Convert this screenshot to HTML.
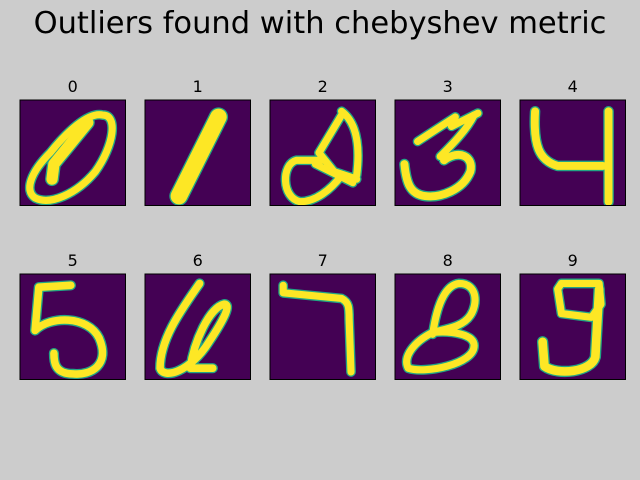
<!DOCTYPE html>
<html><head><meta charset="utf-8"><style>
body{margin:0;background:#cccccc;}
svg{display:block;font-family:"DejaVu Sans","Liberation Sans",sans-serif;}
</style></head><body>
<svg width="640" height="480" viewBox="0 0 640 480">
<rect width="640" height="480" fill="#cccccc"/>
<text x="320" y="33" text-anchor="middle" font-size="30.5" fill="#000">Outliers found with chebyshev metric</text>
<g id="panels"></g>
</svg>
<script>
const labels = ['0','1','2','3','4','5','6','7','8','9'];
const strokes = [
 [['M22,4 C26,4 25,12 20,19 C15,25 8,28 4,26 C1,24 3,19 8,14 C12,9 18,3 22,4 Z',1.9],['M8.5,21 L9,17 L18,6',3]],
 [['M19.5,4.5 L9,25.5',4.4]],
 [['M19,3 C23,6 24,12 23,20',1.9],['M19,4 L13,14 L17,19 L23,21',1.9],['M14,16 L7,16 C3,17 3,26 8,27 C12,27 16,24 19,20',1.9],['M12,17 L22,22',1.8]],
 [['M6,11 L16,4.5 L15,7 L22,3.5',1.9],['M21,4 C19,8 15,12 12,15',1.9],['M13,16 C17,13 21,15 20,19 C18,24 12,26 8,25.5 C4,25 3,22 2.5,17',2.1]],
 [['M4,3 C3.5,12 5,16 10,17.5 L22,17.5',2.1],['M23.5,3 L23.5,27',2.1]],
 [['M13.5,3 L5,3.5 L4,15 C8,11 18,11 21,17 C24,24 19,27 14,26.5 C9,26.5 9,23 9,21',2]],
 [['M14.5,2.5 C10,9 4,17 4,25 C5,28 12,26 17,18 C21,12 23,8 21,8 C17,9 13,18 12,25 L18,25',2]],
 [['M3.5,3 L3.5,5 L19,6.5 C21,7.5 21,9 21,12 L21.5,26',1.9]],
 [['M10,16 C11,9 13,3 17,2.5 C22,2.5 22,8 20,11 C18,14 14,14.5 10,15.5 C5,18 2,22 3.5,25 C8,26.5 21,24 21,19 C21,16 15,15 10,15.5',1.9]],
 [['M11,2.5 L21,2.5 L21.5,8 L19,11.5 L11,10.5 L10,4 Z',1.9],['M21,4 L20,22 C19,26 10,27 6.5,24.5 L6,18',2.3]]
];
const cols=[20,145,270,395,520], rows=[100,274], size=105.5;
const NS='http://www.w3.org/2000/svg';
const root=document.getElementById('panels');
labels.forEach((lab,i)=>{
  const x=cols[i%5], y=rows[Math.floor(i/5)];
  const g=document.createElementNS(NS,'g');
  
  
  const t=document.createElementNS(NS,'text');
  t.setAttribute('x',x+size/2);t.setAttribute('y',y-8);
  t.setAttribute('text-anchor','middle');t.setAttribute('font-size','16');
  t.textContent=lab;
  
  
  g.appendChild(t);
  const cp=document.createElementNS(NS,'clipPath');
  cp.setAttribute('id','clip'+i);
  const cr=document.createElementNS(NS,'rect');
  cr.setAttribute('x',x);cr.setAttribute('y',y);cr.setAttribute('width',size);cr.setAttribute('height',size);
  cp.appendChild(cr);
  g.appendChild(cp);
  const r=document.createElementNS(NS,'rect');
  r.setAttribute('x',x);r.setAttribute('y',y);r.setAttribute('width',size);r.setAttribute('height',size);
  r.setAttribute('fill','#440154');
  
  
  g.appendChild(r);
  const s=size/28;
  const wrap=document.createElementNS(NS,'g');
  wrap.setAttribute('clip-path','url(#clip'+i+')');
  const dg=document.createElementNS(NS,'g');
  dg.setAttribute('transform','translate('+x+','+y+') scale('+s+')');
  
  
  strokes[i].forEach(([d,w])=>{
    const halo=document.createElementNS(NS,'path');
    halo.setAttribute('d',d);halo.setAttribute('fill','none');halo.setAttribute('stroke','#21a585');
    halo.setAttribute('stroke-width',w+0.7);halo.setAttribute('stroke-linecap','round');halo.setAttribute('stroke-linejoin','round');
    
    
    dg.appendChild(halo);
  });
  strokes[i].forEach(([d,w])=>{
    const p=document.createElementNS(NS,'path');
    p.setAttribute('d',d);p.setAttribute('fill','none');p.setAttribute('stroke','#fde725');
    p.setAttribute('stroke-width',w);p.setAttribute('stroke-linecap','round');p.setAttribute('stroke-linejoin','round');
    
    
    dg.appendChild(p);
  });
  wrap.appendChild(dg);
  g.appendChild(wrap);
  const b=document.createElementNS(NS,'rect');
  b.setAttribute('x',x);b.setAttribute('y',y);b.setAttribute('width',size);b.setAttribute('height',size);
  b.setAttribute('fill','none');b.setAttribute('stroke','#000');b.setAttribute('stroke-width','1');
  
  
  g.appendChild(b);
  root.appendChild(g);
});
</script>
</body></html>
